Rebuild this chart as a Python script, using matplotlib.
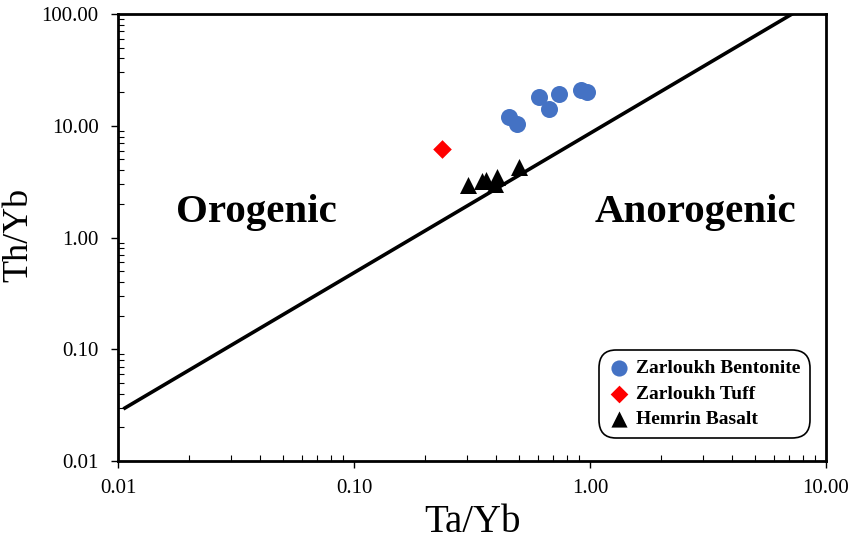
import matplotlib
matplotlib.use("Agg")
import matplotlib.pyplot as plt
from matplotlib.ticker import FixedLocator, FixedFormatter, LogLocator, NullFormatter

plt.rcParams["font.family"] = ["Liberation Serif", "DejaVu Serif"]

# Zarloukh Bentonite
bent_ta_yb = [0.454, 0.491, 0.608, 0.670, 0.739, 0.916, 0.971]
bent_th_yb = [11.97, 10.37, 18.1, 14.1, 19.2, 20.9, 20.0]
# Zarloukh Tuff
tuff_ta_yb = [0.236]
tuff_th_yb = [6.19]
# Hemrin Basalt
bas_ta_yb = [0.304, 0.349, 0.362, 0.404, 0.396, 0.500]
bas_th_yb = [2.95, 3.20, 3.27, 3.48, 3.01, 4.27]

# Orogenic / anorogenic dividing line end points
div_x = [0.0107, 7.18]
div_y = [0.0298, 100.0]

x_ticks = [0.01, 0.1, 1, 10]
x_tick_labels = ["0.01", "0.10", "1.00", "10.00"]
y_ticks = [0.01, 0.1, 1, 10, 100]
y_tick_labels = ["0.01", "0.10", "1.00", "10.00", "100.00"]

fig = plt.figure(figsize=(8.52, 5.39), dpi=100)
ax = fig.add_axes([0.1385, 0.1447, 0.831, 0.8293])

ax.set_xscale("log")
ax.set_yscale("log")
ax.set_xlim(0.01, 10)
ax.set_ylim(0.01, 100)

ax.plot(div_x, div_y, color="black", lw=2.6, zorder=2)

ax.scatter(bent_ta_yb, bent_th_yb, s=150, marker="o", color="#4472C4",
           label="Zarloukh Bentonite", zorder=3, linewidths=0)
ax.scatter(tuff_ta_yb, tuff_th_yb, s=90, marker="D", color="#FF0000",
           label="Zarloukh Tuff", zorder=3, linewidths=0)
ax.scatter(bas_ta_yb, bas_th_yb, s=150, marker="^", color="black",
           label="Hemrin Basalt", zorder=3, linewidths=0)

ax.xaxis.set_major_locator(FixedLocator(x_ticks))
ax.xaxis.set_major_formatter(FixedFormatter(x_tick_labels))
ax.yaxis.set_major_locator(FixedLocator(y_ticks))
ax.yaxis.set_major_formatter(FixedFormatter(y_tick_labels))
ax.xaxis.set_minor_locator(LogLocator(base=10, subs=range(2, 10)))
ax.yaxis.set_minor_locator(LogLocator(base=10, subs=range(2, 10)))
ax.xaxis.set_minor_formatter(NullFormatter())
ax.yaxis.set_minor_formatter(NullFormatter())

ax.tick_params(which="major", direction="out", length=5, width=1.0,
               labelsize=15, pad=8)
ax.tick_params(axis="y", which="major", pad=9)
ax.tick_params(which="minor", direction="in", length=4, width=0.8)
for sp in ax.spines.values():
    sp.set_linewidth(2)

ax.set_xlabel("Ta/Yb", fontsize=28, labelpad=4)
ax.set_ylabel("Th/Yb", fontsize=26)
ax.yaxis.set_label_coords(-0.117, 0.506)

ax.text(0.195, 0.557, "Orogenic", transform=ax.transAxes, fontsize=29.5,
        fontweight="bold", ha="center", va="center")
ax.text(0.816, 0.557, "Anorogenic", transform=ax.transAxes, fontsize=29.5,
        fontweight="bold", ha="center", va="center")

leg = ax.legend(loc="lower right", bbox_to_anchor=(0.977, 0.0515),
                prop={"weight": "bold", "size": 14}, frameon=True,
                fancybox=True, edgecolor="black", handletextpad=0.3,
                borderpad=0.5, labelspacing=0.4, markerscale=0.95,
                handlelength=1.1, borderaxespad=0.0)
leg.get_frame().set_linewidth(1.2)
leg.get_frame().set_alpha(1)
leg.get_frame().set_boxstyle("round,pad=0,rounding_size=0.9")

fig.savefig("out.png", dpi=100)
